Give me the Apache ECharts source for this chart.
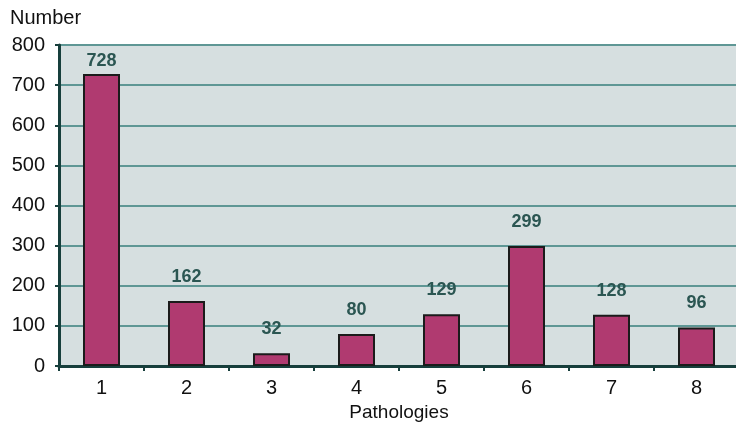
<!DOCTYPE html>
<html><head><meta charset="utf-8">
<script src="https://cdn.jsdelivr.net/npm/echarts@6/dist/echarts.min.js"></script>
<style>html,body{margin:0;padding:0;background:#fff}#c{width:736px;height:424px}</style>
</head><body><div id="c"></div>
<script>
var categories = ['1','2','3','4','5','6','7','8'];
var values = [728, 162, 32, 80, 129, 299, 128, 96];
var yTicks = [0, 100, 200, 300, 400, 500, 600, 700, 800];

var seriesData = values.map(function(v, i){
  return i === 0 ? {value: v, label: {distance: 4}} : v;
});

var chart = echarts.init(document.getElementById('c'), null, {renderer: 'canvas'});
chart.setOption({
  animation: false,
  grid: {left: 59, right: -3, top: 45, bottom: 58, containLabel: false, outerBoundsMode: 'none',
         show: true, backgroundColor: '#d6dfe0', borderWidth: 0},
  xAxis: {
    type: 'category', data: categories, boundaryGap: true,
    name: 'Pathologies', nameLocation: 'middle', nameGap: 34,
    nameTextStyle: {fontFamily: 'Liberation Sans', fontSize: 19, color: '#111'},
    axisLine: {lineStyle: {color: '#173f3c', width: 3}},
    axisTick: {show: true, length: 5, lineStyle: {color: '#173f3c', width: 2}},
    axisLabel: {fontFamily: 'Liberation Sans', fontSize: 20, color: '#111', margin: 12}
  },
  yAxis: {
    type: 'value', min: 0, max: 800, interval: 100,
    name: 'Number', nameLocation: 'end', nameGap: 17,
    nameTextStyle: {fontFamily: 'Liberation Sans', fontSize: 20, color: '#111', align: 'left', padding: [0,0,0,-49]},
    axisLine: {show: true, lineStyle: {color: '#173f3c', width: 3}},
    axisTick: {show: true, length: 4, lineStyle: {color: '#173f3c', width: 2}},
    axisLabel: {fontFamily: 'Liberation Sans', fontSize: 20, color: '#111', margin: 14,
      formatter: function(v){ return yTicks.indexOf(v) >= 0 ? String(v) : ''; }},
    splitLine: {lineStyle: {color: '#5f9795', width: 2}}
  },
  series: [{
    type: 'bar', data: seriesData, barWidth: 37,
    itemStyle: {color: '#b03a70', borderColor: '#1b1b1b', borderWidth: 2},
    label: {show: true, position: 'top', distance: 15,
      fontFamily: 'Liberation Sans', fontWeight: 'bold', fontSize: 18, color: '#2b5652'}
  }]
});
</script></body></html>
